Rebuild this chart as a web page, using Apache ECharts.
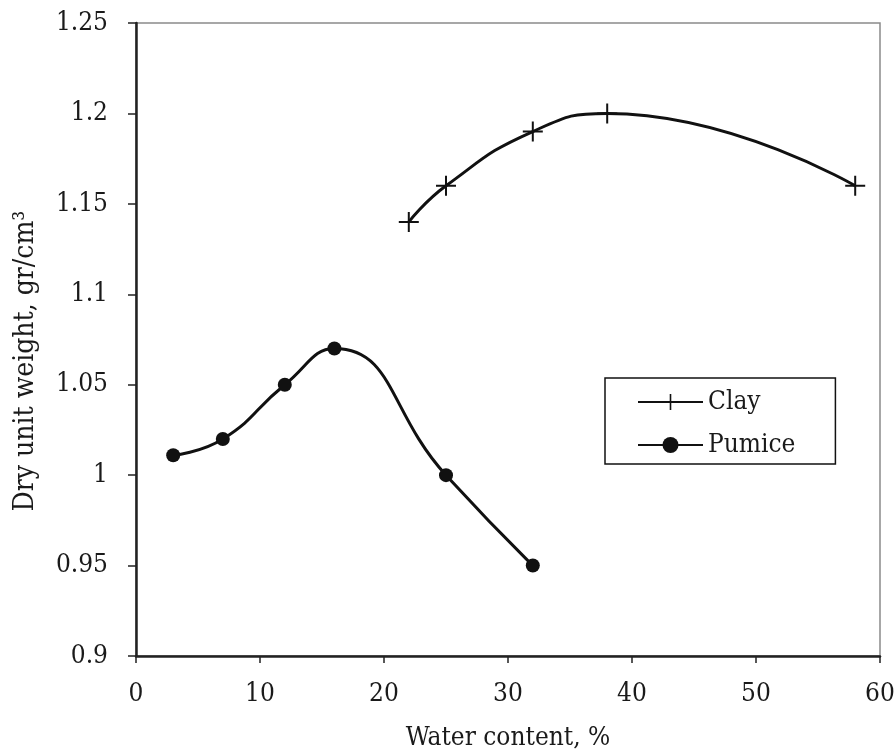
<!DOCTYPE html>
<html>
<head>
<meta charset="utf-8">
<script src="https://cdn.jsdelivr.net/npm/echarts@6/dist/echarts.min.js"></script>
<style>
  html, body { margin: 0; padding: 0; background: #fff; }
  #chart { width: 896px; height: 752px; }
</style>
</head>
<body>
<div id="chart"></div>
<script>
  // water content (%) and dry unit weight (gr/cm3)
  const clayWater = [22, 25, 32, 38, 58];
  const clayWeight = [1.14, 1.16, 1.19, 1.20, 1.16];
  const pumiceWater = [3, 7, 12, 16, 25, 32];
  const pumiceWeight = [1.011, 1.02, 1.05, 1.07, 1.00, 0.95];

  const font = '"DejaVu Serif Condensed", "DejaVu Serif", serif';
  const plus = 'path://M9,0h2v9h9v2h-9v9h-2v-9h-9v-2h9z';

  const chart = echarts.init(document.getElementById('chart'));

  chart.setOption({
    animation: false,
    backgroundColor: '#fff',
    textStyle: { fontFamily: font, color: '#1a1a1a' },
    grid: {
      left: 136,
      right: 16,
      top: 23,
      bottom: 96,
      outerBoundsMode: 'none',
      show: true,
      borderColor: '#8a8a8a',
      borderWidth: 1.5,
    },
    legend: {
      left: 605,
      top: 378,
      orient: 'vertical',
      padding: [11, 40, 6, 32],
      borderColor: '#111',
      borderWidth: 1.5,
      backgroundColor: '#fff',
      itemWidth: 65,
      itemHeight: 20,
      itemGap: 17,
      textStyle: { fontFamily: font, fontSize: 26, color: '#1a1a1a', lineHeight: 20 },
      data: ['Clay', 'Pumice'],
    },
    xAxis: {
      type: 'value',
      min: 0,
      max: 60,
      interval: 10,
      name: 'Water content, %',
      nameLocation: 'middle',
      nameGap: 69,
      nameTextStyle: { fontFamily: font, fontSize: 26, color: '#1a1a1a' },
      axisLine: { lineStyle: { color: '#222', width: 2.5 } },
      axisTick: { length: 7, lineStyle: { color: '#222', width: 1.5 } },
      axisLabel: { margin: 25, fontSize: 26, color: '#1a1a1a', fontFamily: font },
      splitLine: { show: false },
    },
    yAxis: {
      type: 'value',
      min: 0.9,
      max: 1.25,
      interval: 0.05,
      name: 'Dry unit weight, gr/cm³',
      nameLocation: 'middle',
      nameGap: 96,
      nameTextStyle: { fontFamily: font, fontSize: 28, color: '#1a1a1a', padding: [0, 43, 0, 0] },
      axisLine: { show: true, lineStyle: { color: '#222', width: 2.5 } },
      axisTick: { show: true, length: 8, lineStyle: { color: '#222', width: 1.5 } },
      axisLabel: {
        margin: 28,
        fontSize: 26,
        color: '#1a1a1a',
        fontFamily: font,
        formatter: (v) => String(Math.round(v * 100) / 100),
      },
      splitLine: { show: false },
    },
    series: [
      {
        name: 'Clay',
        type: 'line',
        smooth: true,
        symbol: plus,
        symbolSize: 20,
        itemStyle: { color: '#111' },
        lineStyle: { color: '#111', width: 3 },
        data: clayWater.map((x, i) => [x, clayWeight[i]]),
      },
      {
        name: 'Pumice',
        type: 'line',
        smooth: true,
        symbol: 'circle',
        symbolSize: 14,
        itemStyle: { color: '#111' },
        lineStyle: { color: '#111', width: 3 },
        data: pumiceWater.map((x, i) => [x, pumiceWeight[i]]),
      },
    ],
  });

  window.addEventListener('resize', () => chart.resize(), false);
</script>
</body>
</html>
